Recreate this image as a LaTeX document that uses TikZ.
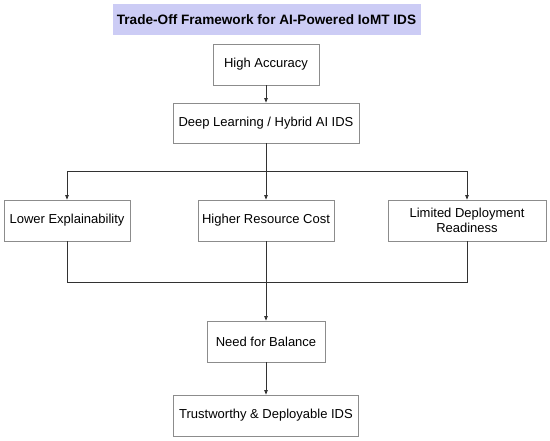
\documentclass[tikz,border=0pt]{standalone}
\usepackage{fontspec}
\setmainfont{Liberation Sans}
\usetikzlibrary{arrows.meta}
\definecolor{titlefill}{RGB}{204,204,245}
\definecolor{boxline}{RGB}{140,140,140}
\definecolor{conn}{RGB}{50,50,50}
\tikzset{
  box/.style={draw=boxline, line width=0.8pt, fill=white, align=center, font=\fontsize{13}{15}\selectfont, inner sep=2pt},
  titlebox/.style={fill=titlefill, font=\bfseries\fontsize{13.6}{15}\selectfont, inner sep=0pt},
  link/.style={draw=conn, line width=0.8pt},
  arr/.style={link, -{Triangle[length=4.5pt,width=3.5pt]}}
}
\begin{document}
\begin{tikzpicture}[x=1pt,y=-1pt]
\useasboundingbox (0,0) rectangle (550,440);
\node[titlebox, minimum width=308pt, minimum height=31pt] (title) at (266.5,19.5) {Trade-Off Framework for AI-Powered IoMT IDS};
\node[box, minimum width=106pt, minimum height=41pt] (ha) at (266,64.5) {High Accuracy};
\node[box, minimum width=186pt, minimum height=40pt] (dl) at (266,123) {Deep Learning / Hybrid AI IDS};
\node[box, minimum width=126pt, minimum height=41pt] (le) at (67,220.5) {Lower Explainability};
\node[box, minimum width=136pt, minimum height=41pt] (hr) at (266,220.5) {Higher Resource Cost};
\node[box, minimum width=158pt, minimum height=41pt] (ld) at (467,220.5) {Limited Deployment\\Readiness};
\node[box, minimum width=118pt, minimum height=41pt] (nb) at (266,341.5) {Need for Balance};
\node[box, minimum width=185pt, minimum height=41pt] (tr) at (266,415.5) {Trustworthy \& Deployable IDS};
\coordinate (split) at (266,171);
\coordinate (splitl) at (67,171);
\coordinate (splitr) at (467,171);
\coordinate (joinl) at (67,282);
\coordinate (joinr) at (467,282);
\coordinate (join) at (266,282);
\draw[arr] (ha) -- (dl);
\draw[link] (dl) -- (split);
\draw[arr] (splitl) -- (le);
\draw[arr] (split) -- (hr);
\draw[arr] (splitr) -- (ld);
\draw[link] (splitl) -- (splitr);
\draw[link] (le) -- (joinl) -- (joinr) -- (ld);
\draw[arr] (hr) -- (nb);
\draw[arr] (nb) -- (tr);
\end{tikzpicture}
\end{document}
